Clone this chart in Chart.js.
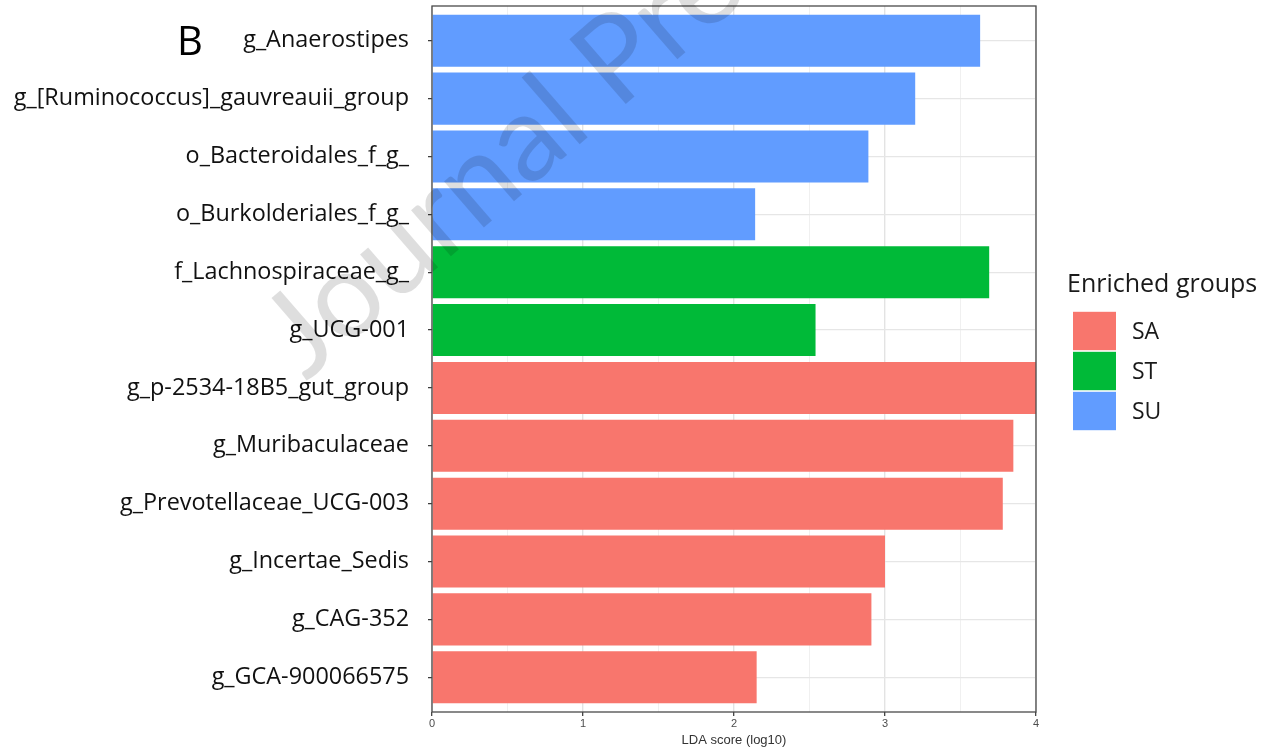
<!DOCTYPE html>
<html>
<head>
<meta charset="utf-8">
<script src="https://cdn.jsdelivr.net/npm/chart.js@4.4.1/dist/chart.umd.min.js"></script>
<style>
  html, body { margin: 0; padding: 0; background: #ffffff; }
  #wrap { width: 1271px; height: 750px; position: relative; }
</style>
</head>
<body>
<div id="wrap"><canvas id="lda" width="1271" height="750"></canvas></div>
<script>
// LEfSe result: taxa, their LDA scores and the group each is enriched in
const taxa = [
  'g_Anaerostipes',
  'g_[Ruminococcus]_gauvreauii_group',
  'o_Bacteroidales_f_g_',
  'o_Burkolderiales_f_g_',
  'f_Lachnospiraceae_g_',
  'g_UCG-001',
  'g_p-2534-18B5_gut_group',
  'g_Muribaculaceae',
  'g_Prevotellaceae_UCG-003',
  'g_Incertae_Sedis',
  'g_CAG-352',
  'g_GCA-900066575'
];
const ldaScores = [3.63, 3.20, 2.89, 2.14, 3.69, 2.54, 4.03, 3.85, 3.78, 3.00, 2.91, 2.15];
const enrichedIn = ['SU', 'SU', 'SU', 'SU', 'ST', 'ST', 'SA', 'SA', 'SA', 'SA', 'SA', 'SA'];
const groups = ['SA', 'ST', 'SU'];
const groupColors = ['#F8766D', '#00BA38', '#619CFF'];
const xTickLabels = [0, 1, 2, 3, 4];

const LABEL_FONT = '"Open Sans", "Noto Sans", sans-serif';

const datasets = groups.map((g, gi) => ({
  label: g,
  backgroundColor: groupColors[gi],
  borderWidth: 0,
  grouped: false,
  barPercentage: 0.9,
  categoryPercentage: 1.0,
  data: taxa.map((t, i) => ({ x: ldaScores[i], y: i })).filter((d, i) => enrichedIn[i] === g)
}));

// white page, panel frame, legend, panel tag and watermark
const decorations = {
  id: 'decorations',
  beforeDraw(chart) {
    const ctx = chart.ctx;
    ctx.save();
    ctx.fillStyle = '#ffffff';
    ctx.fillRect(0, 0, chart.width, chart.height);
    ctx.restore();
  },
  afterDraw(chart) {
    const ctx = chart.ctx;
    const a = chart.chartArea;
    ctx.save();
    // panel border
    ctx.strokeStyle = '#4a4a4a';
    ctx.lineWidth = 1.3;
    ctx.strokeRect(a.left, a.top, a.right - a.left, a.bottom - a.top);

    // legend
    const lx = 1067, ly = 285;
    ctx.fillStyle = '#1a1a1a';
    ctx.textBaseline = 'middle';
    ctx.textAlign = 'left';
    ctx.font = '25px ' + LABEL_FONT;
    ctx.fillText('Enriched groups', lx, ly);
    const boxX = 1073, boxTop = 311, boxW = 43, boxH = 40;
    groups.forEach((g, gi) => {
      const y = boxTop + gi * boxH;
      ctx.fillStyle = groupColors[gi];
      ctx.fillRect(boxX, y + 0.8, boxW, boxH - 1.6);
      ctx.fillStyle = '#1a1a1a';
      ctx.font = '23px ' + LABEL_FONT;
      ctx.fillText(g, 1132, y + boxH / 2 + 1);
    });

    // panel tag
    ctx.font = '40px ' + LABEL_FONT;
    ctx.fillStyle = '#000000';
    ctx.fillText('B', 177, 44);

    // watermark
    ctx.translate(306, 382);
    ctx.rotate(-41 * Math.PI / 180);
    ctx.font = '120px Lato, "Open Sans", sans-serif';
    ctx.fillStyle = 'rgba(0, 0, 0, 0.13)';
    ctx.textBaseline = 'alphabetic';
    ctx.fillText('Journal Pre-proof', 0, 0);
    ctx.restore();
  }
};

new Chart(document.getElementById('lda'), {
  type: 'bar',
  data: { datasets },
  options: {
    indexAxis: 'y',
    responsive: false,
    animation: false,
    layout: { padding: { left: 0, top: 6, right: 235, bottom: 0 } },
    plugins: {
      legend: { display: false },
      tooltip: { enabled: false }
    },
    scales: {
      x: {
        type: 'linear',
        position: 'bottom',
        min: 0,
        max: 4,
        border: { display: false },
        grid: {
          color: c => Number.isInteger(c.tick.value) ? '#E3E3E3' : '#F0F0F0',
          lineWidth: c => Number.isInteger(c.tick.value) ? 1.4 : 1,
          tickLength: 4,
          tickWidth: 1.2,
          tickColor: c => Number.isInteger(c.tick.value) ? '#333333' : 'rgba(0,0,0,0)'
        },
        ticks: {
          stepSize: 0.5,
          autoSkip: false,
          maxRotation: 0,
          padding: 1,
          color: '#4D4D4D',
          font: { family: 'Liberation Sans', size: 11 },
          callback: v => xTickLabels.includes(v) ? String(v) : ''
        },
        title: {
          display: true,
          text: 'LDA score (log10)',
          color: '#333333',
          font: { family: 'Liberation Sans', size: 13 },
          padding: { top: 0, bottom: 2 }
        },
        afterFit: s => { s.height = 38; s.paddingLeft = 0; s.paddingRight = 0; }
      },
      y: {
        type: 'linear',
        min: -0.6,
        max: 11.6,
        reverse: true,
        offset: false,
        afterBuildTicks: s => { s.ticks = taxa.map((t, i) => ({ value: i })); },
        border: { display: false },
        grid: {
          offset: false,
          color: '#E6E6E6',
          lineWidth: 1.3,
          tickLength: 4,
          tickWidth: 1.2,
          tickColor: '#333333'
        },
        ticks: {
          autoSkip: false,
          padding: 19,
          color: '#111111',
          font: { family: 'Open Sans', size: 23.4 },
          callback: v => taxa[v]
        },
        afterFit: s => { s.width = 432; s.paddingTop = 0; s.paddingBottom = 0; }
      }
    }
  },
  plugins: [decorations]
});
</script>
</body>
</html>
